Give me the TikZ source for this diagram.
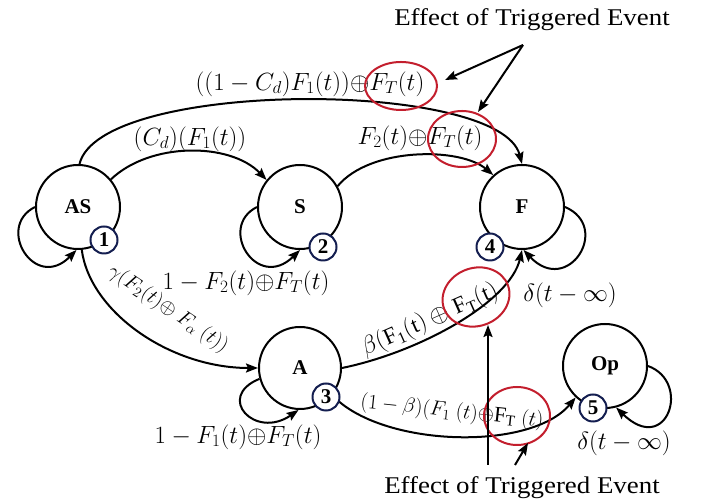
\documentclass[tikz,border=0pt]{standalone}
\usepackage{fontspec}
\setmainfont{Liberation Serif}
\newfontfamily\notefont[FakeStretch=1.12]{Liberation Serif}
\usetikzlibrary{arrows.meta,shapes.geometric}
\definecolor{navy}{RGB}{20,30,80}
\definecolor{hlred}{RGB}{195,30,45}
\begin{document}
\begin{tikzpicture}[x=1pt,y=1pt,
  state/.style={circle,draw,line width=2pt,minimum size=84pt,inner sep=0pt,font=\fontsize{21}{22}\selectfont\bfseries},
  badge/.style={circle,draw=navy,line width=2pt,fill=white,minimum size=27pt,inner sep=0pt,font=\fontsize{21}{22}\selectfont\bfseries},
  edge/.style={line width=2pt,-{Stealth[length=12pt,width=9pt,inset=2pt]}},
  lbl/.style={font=\fontsize{25}{27}\selectfont,inner sep=0pt},
  rlbl/.style={font=\fontsize{23}{25}\selectfont,inner sep=0pt},
  note/.style={font=\notefont\fontsize{24}{26}\selectfont,inner sep=0pt},
  hl/.style={ellipse,draw=hlred,line width=2pt,inner sep=0pt}]
\useasboundingbox (0,0) rectangle (706,502);
% states
\node[state] (AS) at (78,295) {AS};
\node[state] (S) at (300,295) {S};
\node[state] (F) at (522,295) {F};
\node[state,minimum size=82pt] (A) at (300,134) {A};
\node[state] (Op) at (605,136) {Op};
% transitions
\draw[edge] (AS.40) .. controls (150,360) and (230,360) .. (S.141);
\draw[edge] (AS.88) .. controls (100,423) and (500,423) .. (F.north);
\draw[edge] (S.29) .. controls (370,355) and (460,355) .. (F.132);
\draw[edge] (AS.-85) .. controls (90,190) and (170,134) .. (A.west);
\draw[edge] (A.east) .. controls (420,150) and (510,200) .. (F.south);
\draw[edge] (A.-40) .. controls (380,55) and (530,50) .. (Op.227);
% self loops
\draw[edge] (AS.west) .. controls (-5,275) and (35,210) .. (AS.-92);
\draw[edge] (S.west) .. controls (217,275) and (257,210) .. (S.-90);
\draw[edge] (F.east) .. controls (612,275) and (568,205) .. (F.-88);
\draw[edge] (A.195) .. controls (215,105) and (255,62) .. (A.-92);
\draw[edge] (Op.east) .. controls (692,120) and (667,45) .. (Op.-75);
% labels
\node[lbl] (lAS_S) at (190,363) {$(C_d)\big(F_1(t)\big)$};
\node[lbl] (lAS_F) at (310,418) {$\big((1-C_d)F_1(t)\big){\oplus}F_T(t)$};
\node[lbl] (lS_F) at (420,364) {$F_2(t){\oplus}F_T(t)$};
\node[lbl,font=\fontsize{26}{28}\selectfont] (lS) at (246,219) {$1-F_2(t){\oplus}F_T(t)$};
\node[lbl,font=\fontsize{26}{28}\selectfont] (lA) at (238,65) {$1-F_1(t){\oplus}F_T(t)$};
\node[lbl] (lF) at (570,207) {$\delta(t-\infty)$};
\node[lbl] (lOp) at (624,59) {$\delta(t-\infty)$};
\node[rlbl,font=\fontsize{21}{23}\selectfont,rotate=-34] (lAS_A) at (168,193) {$\gamma(F_2(t){\oplus}\ F_\alpha\ (t))$};
\node[rlbl,rotate=24] (lA_F) at (430,182) {$\beta(\mathrm{F_1(t)}\oplus\mathrm{F_T(t)}$};
\node[rlbl,font=\fontsize{22}{24}\selectfont,rotate=-6] (lA_Op) at (452,90) {$(1-\beta)(F_1\ (t){\oplus}\mathrm{F_T}\ (t)$};
% highlight ellipses
\node[hl,minimum width=72pt,minimum height=48pt] (e1) at (401,416) {};
\node[hl,minimum width=68pt,minimum height=56pt] (e2) at (462,363) {};
\node[hl,minimum width=68pt,minimum height=58pt,rotate=20] (e3) at (476,205) {};
\node[hl,minimum width=66pt,minimum height=58pt] (e4) at (517,86) {};
% notes
\node[note] (t1) at (532,482) {Effect of Triggered Event};
\node[note] (t2) at (522,14) {Effect of Triggered Event};
\coordinate (s1) at (523,457);
\coordinate (p1) at (445,422);
\coordinate (p2) at (478,390);
\coordinate (s2) at (488,37);
\coordinate (p3) at (488,177);
\coordinate (s3) at (515,37);
\coordinate (p4) at (528,59);
\draw[edge] (s1) -- (p1);
\draw[edge] (s1) -- (p2);
\draw[edge] (s2) -- (p3);
\draw[edge] (s3) -- (p4);
% badges
\node[badge] (b1) at (104,262) {1};
\node[badge] (b2) at (323,255) {2};
\node[badge] (b4) at (490,255) {4};
\node[badge] (b3) at (326,105) {3};
\node[badge] (b5) at (593,94) {5};
\end{tikzpicture}
\end{document}
